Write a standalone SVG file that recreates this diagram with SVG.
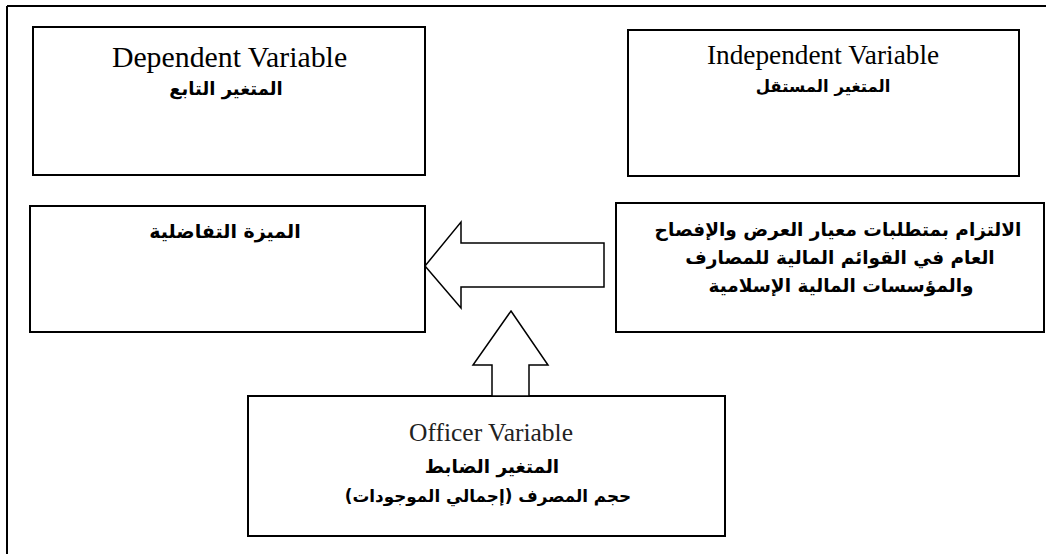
<svg xmlns="http://www.w3.org/2000/svg" width="1046" height="554" viewBox="0 0 1046 554">
<style>
.box{fill:#fff;stroke:#000;stroke-width:2}
.arr{fill:#fff;stroke:#000;stroke-width:1.5;stroke-linejoin:miter}
.en{font-family:"Liberation Serif","Times New Roman",serif;fill:#000;text-anchor:middle}
.off{font-family:"Liberation Serif","Times New Roman",serif;fill:#222;text-anchor:middle}
.ar{font-family:"DejaVu Sans","Noto Sans",sans-serif;font-weight:bold;fill:#000;text-anchor:middle}
</style>
<rect width="1046" height="554" fill="#fff"/>
<g id="frame">
<line x1="7" y1="6" x2="1046" y2="6" stroke="#000" stroke-width="2"/>
<line x1="7" y1="6" x2="7" y2="554" stroke="#000" stroke-width="2"/>
</g>
<g id="dependent">
<rect class="box" x="33" y="27" width="392" height="148"/>
<text class="en" x="229.5" y="67" font-size="29.8">Dependent Variable</text>
<text class="ar" x="226" y="95" font-size="18" direction="rtl">المتغير التابع</text>
</g>
<g id="independent">
<rect class="box" x="628" y="30" width="391" height="146"/>
<text class="en" x="823" y="64" font-size="27.3">Independent Variable</text>
<text class="ar" x="823" y="92" font-size="16.5" direction="rtl">المتغير المستقل</text>
</g>
<g id="advantage">
<rect class="box" x="30" y="206" width="395" height="126"/>
<text class="ar" x="225" y="238" font-size="19" direction="rtl">الميزة التفاضلية</text>
</g>
<g id="compliance">
<rect class="box" x="616" y="203" width="428" height="129"/>
<text class="ar" x="838" y="236" font-size="18.5" direction="rtl">الالتزام بمتطلبات معيار العرض والإفصاح</text>
<text class="ar" x="840" y="264" font-size="18.5" direction="rtl">العام في القوائم المالية للمصارف</text>
<text class="ar" x="841" y="292" font-size="18.5" direction="rtl">والمؤسسات المالية الإسلامية</text>
</g>
<g id="control">
<rect class="box" x="248" y="396" width="477" height="140"/>
<text class="off" x="491" y="441" font-size="25.5">Officer Variable</text>
<text class="ar" x="492" y="473" font-size="18.5" direction="rtl">المتغير الضابط</text>
<text class="ar" x="488" y="502" font-size="16.8" direction="rtl">حجم المصرف (إجمالي الموجودات)</text>
</g>
<g id="connectors">
<polygon class="arr" points="425,266 461,222 461,243 604,243 604,287 461,287 461,308"/>
<polygon class="arr" points="511,311 548,365 529,365 529,396 492,396 492,365 473,365"/>
</g>
</svg>
